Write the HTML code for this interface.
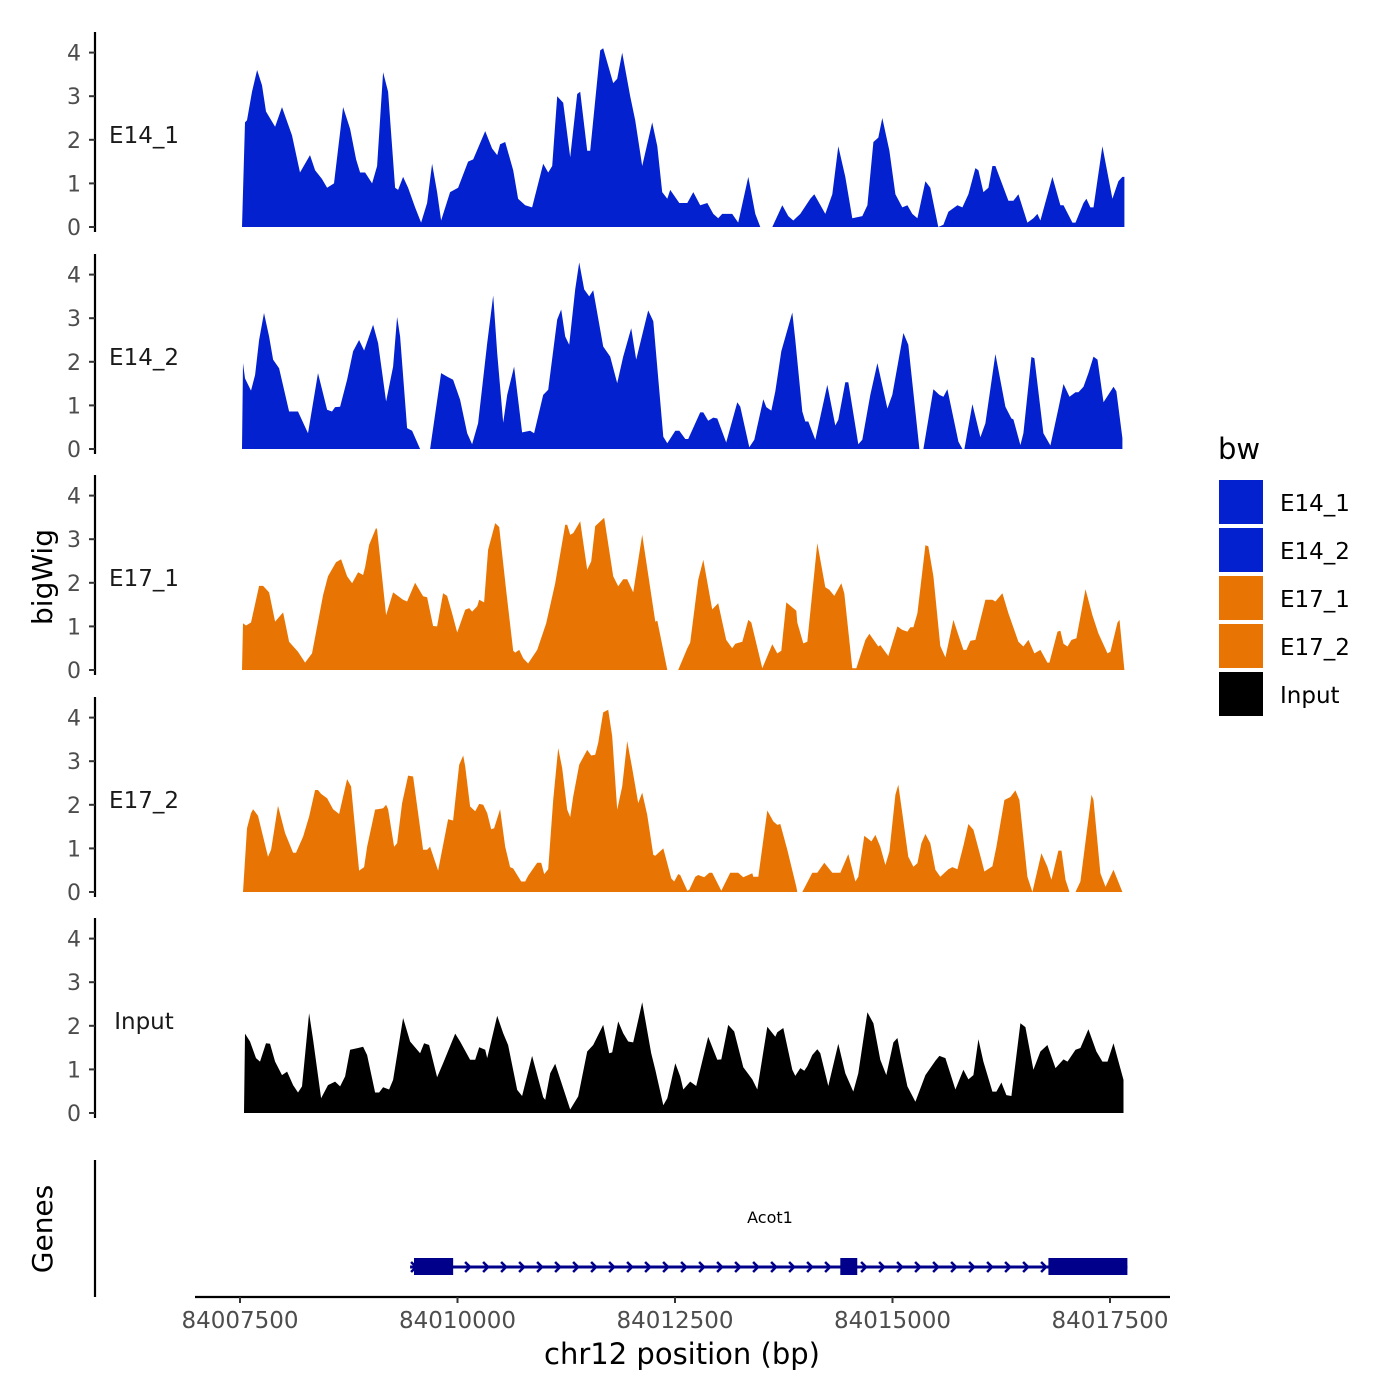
<!DOCTYPE html>
<html><head><meta charset="utf-8"><style>
body{margin:0;background:#fff;}
svg{display:block;font-family:"DejaVu Sans","Liberation Sans",sans-serif;}
</style></head><body>
<svg id="chart" width="1400" height="1400" viewBox="0 0 1400 1400"></svg>
<script>
const START = 84007500;
const trackNames = ["E14_1","E14_2","E17_1","E17_2","Input"];
const trackGroups = ["E14","E14","E17","E17","Input"];
const xTicks = [84007500, 84010000, 84012500, 84015000, 84017500];
const yTicks = [0,1,2,3,4];
// [bp offset from START, signal]
const e14_1 = [[23,0],[58,2.4],[80,2.45],[138,3.1],[196,3.6],[253,3.25],[299,2.65],[403,2.3],[483,2.75],[598,2.1],[690,1.25],[805,1.65],[863,1.3],[943,1.1],[1001,0.9],[1081,1.0],[1185,2.75],[1265,2.25],[1334,1.55],[1380,1.25],[1438,1.25],[1518,1.0],[1576,1.4],[1645,3.55],[1702,3.1],[1783,0.9],[1817,0.85],[1875,1.15],[1932,0.9],[2013,0.45],[2082,0.1],[2151,0.55],[2208,1.45],[2266,0.8],[2312,0.15],[2415,0.8],[2507,0.9],[2622,1.5],[2680,1.55],[2818,2.2],[2898,1.8],[2956,1.65],[2990,1.9],[3048,1.95],[3140,1.3],[3197,0.65],[3278,0.5],[3358,0.45],[3485,1.45],[3542,1.25],[3588,1.4],[3646,3.0],[3715,2.85],[3795,1.6],[3876,3.05],[3910,3.1],[3991,1.75],[4025,1.75],[4140,4.05],[4175,4.1],[4290,3.3],[4336,3.4],[4393,4.0],[4485,3.0],[4543,2.45],[4623,1.4],[4738,2.4],[4796,1.85],[4853,0.8],[4911,0.65],[4945,0.85],[5049,0.55],[5141,0.55],[5210,0.8],[5290,0.5],[5371,0.55],[5440,0.3],[5497,0.2],[5543,0.3],[5658,0.3],[5727,0.1],[5842,1.15],[5923,0.3],[5980,0],[6118,0],[6233,0.5],[6302,0.25],[6360,0.15],[6440,0.3],[6555,0.65],[6601,0.75],[6728,0.3],[6808,0.75],[6877,1.85],[6958,1.15],[7038,0.2],[7153,0.25],[7211,0.5],[7280,1.95],[7337,2.05],[7383,2.5],[7464,1.75],[7533,0.75],[7613,0.45],[7671,0.5],[7728,0.3],[7786,0.2],[7878,1.05],[7935,0.9],[8027,0],[8085,0.05],[8142,0.35],[8246,0.5],[8303,0.45],[8372,0.75],[8453,1.35],[8487,1.3],[8545,0.8],[8602,0.9],[8648,1.4],[8683,1.4],[8832,0.6],[8890,0.6],[8947,0.75],[9051,0.1],[9120,0.2],[9166,0.3],[9200,0.15],[9338,1.15],[9430,0.5],[9465,0.5],[9568,0.1],[9603,0.1],[9695,0.55],[9729,0.65],[9775,0.45],[9810,0.45],[9913,1.85],[10028,0.65],[10097,1.05],[10143,1.15],[10166,1.15]];
const e14_2 = [[23,0],[35,1.97],[58,1.62],[127,1.34],[173,1.7],[219,2.5],[276,3.12],[334,2.58],[380,2.05],[449,1.85],[564,0.86],[667,0.86],[782,0.36],[897,1.74],[1001,0.9],[1058,0.86],[1093,0.96],[1150,0.97],[1231,1.59],[1300,2.24],[1369,2.5],[1426,2.26],[1530,2.85],[1587,2.43],[1679,1.09],[1760,1.89],[1806,3.03],[1840,2.58],[1921,0.48],[1978,0.42],[2070,0],[2185,0],[2312,1.74],[2381,1.66],[2450,1.59],[2530,1.13],[2611,0.36],[2668,0.11],[2737,0.59],[2841,2.43],[2910,3.52],[2956,2.2],[3025,0.6],[3071,1.24],[3151,1.89],[3243,0.38],[3335,0.42],[3381,0.36],[3485,1.24],[3542,1.36],[3646,2.97],[3692,3.2],[3738,2.58],[3784,2.39],[3853,3.66],[3899,4.28],[3956,3.66],[4014,3.5],[4060,3.64],[4175,2.35],[4255,2.12],[4336,1.51],[4405,2.12],[4497,2.77],[4554,2.05],[4692,3.18],[4750,2.93],[4865,0.28],[4911,0.13],[5003,0.42],[5049,0.42],[5118,0.23],[5152,0.23],[5290,0.84],[5325,0.84],[5382,0.65],[5440,0.72],[5486,0.7],[5589,0.15],[5716,1.07],[5750,0.97],[5854,0.04],[5911,0.21],[6015,1.14],[6049,0.96],[6107,0.88],[6153,1.32],[6222,2.24],[6348,3.13],[6383,2.5],[6463,0.86],[6498,0.63],[6532,0.63],[6613,0.21],[6751,1.47],[6843,0.54],[6877,0.67],[6958,1.53],[6992,1.53],[7107,0.11],[7153,0.21],[7245,1.24],[7326,1.97],[7441,0.93],[7498,1.24],[7625,2.66],[7682,2.39],[7809,0],[7855,0],[7970,1.37],[8039,1.24],[8085,1.2],[8131,1.37],[8257,0.17],[8303,0],[8326,0],[8418,1.03],[8510,0.27],[8568,0.59],[8683,2.18],[8798,0.97],[8867,0.7],[8890,0.68],[8970,0.09],[9005,0.36],[9097,2.11],[9131,2.08],[9235,0.36],[9315,0.08],[9407,0.93],[9465,1.49],[9534,1.2],[9603,1.3],[9637,1.3],[9695,1.43],[9752,1.74],[9810,2.12],[9856,2.05],[9925,1.07],[10040,1.43],[10074,1.32],[10143,0.25]];
const e17_1 = [[23,0],[35,1.07],[69,1.02],[127,1.09],[219,1.93],[265,1.93],[334,1.78],[403,1.11],[495,1.32],[564,0.65],[667,0.42],[748,0.17],[828,0.38],[955,1.72],[1012,2.15],[1104,2.47],[1162,2.54],[1231,2.15],[1288,1.99],[1357,2.24],[1415,2.18],[1438,2.36],[1484,2.87],[1564,3.26],[1576,3.22],[1679,1.26],[1760,1.78],[1875,1.61],[1921,1.57],[2013,2.0],[2105,1.69],[2151,1.67],[2220,1.01],[2266,1.0],[2335,1.76],[2381,1.7],[2438,1.3],[2496,0.86],[2588,1.38],[2634,1.42],[2668,1.34],[2726,1.46],[2749,1.61],[2806,1.55],[2852,2.76],[2933,3.37],[2979,3.28],[3059,1.84],[3140,0.44],[3163,0.4],[3209,0.46],[3255,0.27],[3312,0.15],[3416,0.46],[3519,1.07],[3623,1.99],[3738,3.33],[3761,3.33],[3795,3.1],[3830,3.14],[3910,3.41],[3991,2.3],[4037,2.49],[4083,3.3],[4186,3.49],[4290,2.15],[4347,1.92],[4405,2.08],[4451,2.08],[4520,1.78],[4623,3.1],[4773,1.11],[4796,1.13],[4911,0],[5037,0],[5141,0.5],[5175,0.63],[5267,2.07],[5325,2.53],[5428,1.39],[5497,1.53],[5589,0.69],[5658,0.5],[5693,0.6],[5773,0.65],[5842,1.15],[5877,1.09],[6003,0.04],[6118,0.59],[6176,0.38],[6222,0.44],[6279,1.55],[6394,1.36],[6406,1.09],[6475,0.61],[6521,0.65],[6636,2.91],[6728,1.9],[6774,1.84],[6831,1.7],[6912,1.99],[6946,1.76],[7038,0.04],[7084,0.04],[7188,0.69],[7234,0.83],[7337,0.54],[7360,0.57],[7452,0.32],[7556,1.0],[7613,0.92],[7671,0.88],[7705,0.98],[7740,0.98],[7786,1.3],[7878,2.86],[7912,2.84],[7970,2.15],[8050,0.55],[8108,0.29],[8200,1.15],[8257,0.8],[8315,0.46],[8349,0.46],[8395,0.67],[8453,0.69],[8568,1.61],[8648,1.61],[8683,1.57],[8763,1.76],[8832,1.3],[8947,0.65],[9005,0.54],[9062,0.69],[9131,0.38],[9200,0.46],[9281,0.17],[9304,0.17],[9396,0.88],[9430,0.9],[9465,0.6],[9511,0.54],[9557,0.69],[9614,0.73],[9718,1.85],[9798,1.26],[9867,0.84],[9971,0.38],[10005,0.42],[10086,1.09],[10109,1.15],[10166,0]];
const e17_2 = [[35,0],[80,1.46],[127,1.81],[150,1.9],[207,1.75],[265,1.27],[322,0.81],[357,0.97],[437,1.98],[518,1.35],[610,0.9],[644,0.9],[725,1.27],[794,1.73],[863,2.34],[897,2.34],[932,2.25],[1001,2.15],[1070,1.9],[1139,1.79],[1231,2.59],[1277,2.42],[1369,0.49],[1426,0.57],[1461,1.04],[1553,1.89],[1645,1.92],[1679,2.0],[1702,1.9],[1771,1.04],[1806,1.12],[1863,2.04],[1932,2.67],[1990,2.65],[2105,0.97],[2151,0.97],[2185,1.04],[2277,0.49],[2392,1.67],[2450,1.64],[2519,2.92],[2565,3.13],[2588,2.88],[2645,1.96],[2703,1.85],[2749,2.02],[2795,2.0],[2841,1.81],[2887,1.44],[2921,1.46],[2990,1.9],[3048,1.04],[3105,0.57],[3140,0.54],[3232,0.24],[3278,0.24],[3312,0.37],[3416,0.67],[3462,0.67],[3496,0.41],[3542,0.52],[3600,2.11],[3657,3.3],[3703,2.84],[3761,1.89],[3795,1.72],[3830,2.19],[3899,2.92],[3991,3.26],[4037,3.13],[4083,3.15],[4117,3.42],[4175,4.12],[4232,4.18],[4278,3.57],[4336,1.89],[4393,2.42],[4451,3.46],[4508,2.84],[4577,2.04],[4623,2.28],[4681,1.77],[4750,0.85],[4773,0.83],[4865,1.0],[4957,0.31],[4991,0.24],[5037,0.41],[5060,0.39],[5141,0.03],[5164,0.05],[5233,0.35],[5267,0.39],[5336,0.34],[5394,0.44],[5428,0.44],[5532,0.03],[5635,0.44],[5727,0.44],[5785,0.34],[5888,0.43],[5900,0.35],[5957,0.35],[6061,1.87],[6130,1.62],[6176,1.54],[6210,1.56],[6291,0.97],[6394,0.12],[6406,0],[6463,0],[6578,0.44],[6636,0.44],[6716,0.67],[6808,0.44],[6900,0.44],[6992,0.87],[7073,0.24],[7107,0.35],[7176,1.29],[7257,1.16],[7303,1.31],[7360,1.04],[7418,0.62],[7464,0.93],[7533,2.23],[7567,2.46],[7613,1.81],[7682,0.81],[7740,0.58],[7786,0.66],[7832,1.12],[7878,1.33],[7935,1.12],[7993,0.51],[8050,0.35],[8142,0.52],[8188,0.57],[8246,0.52],[8315,1.06],[8372,1.56],[8430,1.43],[8522,0.74],[8556,0.47],[8648,0.59],[8694,1.04],[8786,2.11],[8855,2.18],[8913,2.33],[8959,2.11],[9051,0.35],[9108,0],[9212,0.89],[9281,0.58],[9327,0.28],[9407,0.95],[9442,0.95],[9488,0.28],[9534,0],[9603,0],[9660,0.24],[9787,2.23],[9810,2.11],[9890,0.43],[9948,0.12],[10040,0.51],[10143,0]];
const input = [[46,0],[58,1.82],[115,1.64],[184,1.26],[230,1.18],[299,1.6],[345,1.59],[403,1.18],[483,0.87],[541,0.95],[610,0.64],[667,0.47],[713,0.61],[794,2.29],[840,1.68],[932,0.34],[1012,0.64],[1093,0.72],[1150,0.61],[1208,0.84],[1265,1.45],[1357,1.49],[1415,1.52],[1461,1.33],[1553,0.47],[1599,0.47],[1645,0.59],[1714,0.54],[1760,0.76],[1875,2.18],[1955,1.64],[2070,1.37],[2116,1.6],[2174,1.56],[2266,0.82],[2335,1.14],[2473,1.82],[2530,1.64],[2645,1.22],[2703,1.22],[2749,1.51],[2818,1.45],[2841,1.26],[2956,2.23],[3025,1.83],[3082,1.56],[3186,0.53],[3243,0.39],[3358,1.31],[3485,0.36],[3508,0.3],[3565,0.91],[3623,1.13],[3795,0.08],[3887,0.38],[3991,1.41],[4060,1.56],[4175,2.02],[4244,1.37],[4278,1.39],[4347,2.1],[4405,1.83],[4462,1.64],[4520,1.62],[4623,2.54],[4727,1.37],[4773,0.99],[4865,0.18],[4911,0.34],[5003,1.14],[5060,0.84],[5095,0.54],[5175,0.72],[5244,0.62],[5382,1.75],[5486,1.22],[5532,1.23],[5612,2.02],[5681,1.87],[5785,1.05],[5888,0.77],[5946,0.54],[6061,1.98],[6153,1.75],[6176,1.85],[6245,1.95],[6348,0.99],[6383,0.85],[6440,1.03],[6486,0.97],[6521,1.07],[6578,1.33],[6636,1.46],[6670,1.37],[6762,0.62],[6877,1.59],[6958,0.91],[7050,0.49],[7107,0.91],[7211,2.31],[7280,2.06],[7360,1.22],[7429,0.87],[7510,1.62],[7556,1.72],[7602,1.26],[7671,0.61],[7763,0.26],[7878,0.87],[7993,1.2],[8039,1.31],[8108,1.26],[8223,0.54],[8315,0.99],[8372,0.77],[8430,0.87],[8487,1.69],[8545,1.18],[8648,0.49],[8694,0.49],[8752,0.7],[8809,0.41],[8867,0.39],[8970,2.06],[9028,1.97],[9120,0.99],[9200,1.41],[9281,1.56],[9373,1.03],[9465,1.23],[9511,1.18],[9603,1.45],[9660,1.49],[9752,1.92],[9844,1.41],[9913,1.18],[9971,1.18],[10040,1.6],[10155,0.76]];
const geneName = "Acot1";
const geneSpan = [84009455, 84017700];
const geneExons = [[84009500,84009950],[84014400,84014595],[84016792,84017700]];

const seriesData = [e14_1, e14_2, e17_1, e17_2, input];
const colors = {E14:"#0321CF", E17:"#E87503", Input:"#000000"};
const NS="http://www.w3.org/2000/svg";
const svg=document.getElementById('chart');
function mk(tag,attrs,parent){const e=document.createElementNS(NS,tag);for(const k in attrs)e.setAttribute(k,attrs[k]);(parent||svg).appendChild(e);return e;}
const xs = bp => 240 + (bp-84007500)*0.087;
const baselines=[227,449,670,892,1113];
const pxPerUnit=43.6;
const ys=(i,v)=>baselines[i]-v*pxPerUnit;

seriesData.forEach((s,i)=>{
  const g=mk('g',{});
  
  
  const ax=mk('line',{x1:95,x2:95,y1:baselines[i]-195,y2:baselines[i]+5,stroke:'#000','stroke-width':2.2},g);
  
  
  yTicks.forEach(t=>{
    const y=ys(i,t);
    const tk=mk('line',{x1:89,x2:95,y1:y,y2:y,stroke:'#333','stroke-width':2},g);
    
    
    const tl=mk('text',{x:81,y:y+8,'text-anchor':'end','font-size':22,fill:'#4d4d4d'},g);
    tl.textContent=t;
    
    
  });
  const lab=mk('text',{x:144,y:baselines[i]-84,'text-anchor':'middle','font-size':23,fill:'#1a1a1a'},g);
  lab.textContent=trackNames[i];
  
  
  let d='M'+xs(START+s[0][0]).toFixed(1)+','+baselines[i];
  s.forEach(p=>{d+='L'+xs(START+p[0]).toFixed(1)+','+ys(i,p[1]).toFixed(1);});
  d+='L'+xs(START+s[s.length-1][0]).toFixed(1)+','+baselines[i]+'Z';
  const area=mk('path',{d:d,fill:colors[trackGroups[i]]},g);
  
  
});

const yt=mk('text',{x:0,y:0,transform:'translate(52,577) rotate(-90)','text-anchor':'middle','font-size':28,fill:'#000'});
yt.textContent='bigWig';



const gl=mk('line',{x1:95,x2:95,y1:1160,y2:1297,stroke:'#000','stroke-width':2.2});


const gt=mk('text',{x:0,y:0,transform:'translate(52,1229) rotate(-90)','text-anchor':'middle','font-size':28,fill:'#000'});
gt.textContent='Genes';


const gg=mk('g',{});


const gx0=xs(geneSpan[0]), gx1=xs(geneSpan[1]);
mk('line',{x1:gx0,x2:gx1,y1:1267,y2:1267,stroke:'#00008B','stroke-width':3},gg);
for(let x=gx0+3;x<gx1;x+=18){
  mk('polyline',{points:(x-2)+',1262 '+(x+3)+',1267 '+(x-2)+',1272',fill:'none',stroke:'#00008B','stroke-width':2.5},gg);
}
geneExons.forEach(e=>{
  const r=mk('rect',{x:xs(e[0]),y:1258,width:xs(e[1])-xs(e[0]),height:17,fill:'#00008B'},gg);
  
  
});
const gn=mk('text',{x:770,y:1223,'text-anchor':'middle','font-size':16,fill:'#000'},gg);
gn.textContent=geneName;



const xa=mk('line',{x1:195,x2:1170,y1:1297,y2:1297,stroke:'#000','stroke-width':2.2});


xTicks.forEach(t=>{
  const x=xs(t);
  const tk=mk('line',{x1:x,x2:x,y1:1297,y2:1303,stroke:'#333','stroke-width':2});
  
  
  const tl=mk('text',{x:x,y:1328,'text-anchor':'middle','font-size':23,fill:'#4d4d4d'});
  tl.textContent=t;
  
  
});
const xt=mk('text',{x:682,y:1364,'text-anchor':'middle','font-size':29,fill:'#000'});
xt.textContent='chr12 position (bp)';



const lg=mk('g',{});


const ltitle=mk('text',{x:1218,y:459,'font-size':29,fill:'#000'},lg);
ltitle.textContent='bw';


trackNames.forEach((n,i)=>{
  const y=480+i*48;
  const r=mk('rect',{x:1219,y:y,width:44,height:44,fill:colors[trackGroups[i]]},lg);
  
  
  const t=mk('text',{x:1280,y:y+31,'font-size':23,fill:'#000'},lg);
  t.textContent=n;
  
  
});
</script>
</body></html>
